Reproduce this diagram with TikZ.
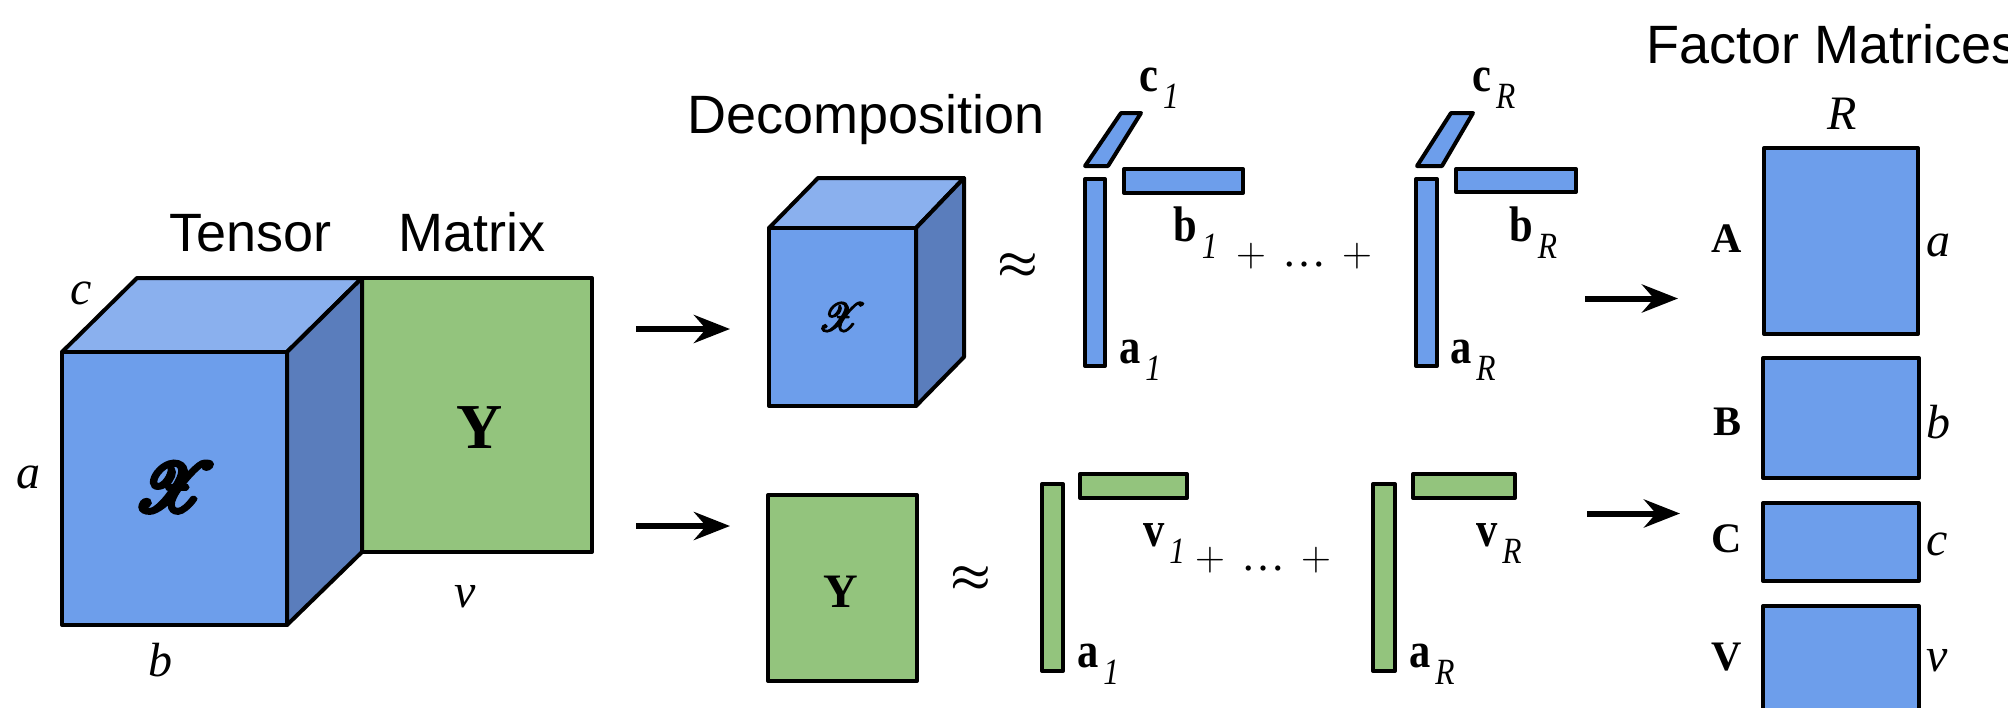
\documentclass[tikz,border=0pt]{standalone}
\usepackage{amsmath,bm}
\usepackage{mathrsfs}
\usepackage{fontspec}
\setmainfont{Liberation Serif}
\newfontfamily\headfont{Liberation Sans}
\usetikzlibrary{arrows.meta}
\definecolor{cblue}{HTML}{6D9EEB}
\definecolor{ctop}{HTML}{8AB0EE}
\definecolor{cside}{HTML}{5A7DBC}
\definecolor{cgreen}{HTML}{93C47D}
\newcommand{\fs}[1]{\fontsize{#1}{#1}\selectfont}
\newcommand{\lab}[3]{\scalebox{.85}[1]{\fs{25}\textbf{#1}}\hspace{#3}\raisebox{-8.5pt}{\scalebox{.85}[1]{\fs{18.5}\textit{#2}}}}
\newcommand{\heavy}[2]{\special{pdf:code q 2 Tr #1 w}#2\special{pdf:code Q}}
\tikzset{
 x=0.5pt,y=-0.5pt,
 shape outline/.style={draw=black,line width=2pt,line join=round},
 blueface/.style={shape outline,fill=cblue},
 topface/.style={shape outline,fill=ctop},
 sideface/.style={shape outline,fill=cside},
 greenface/.style={shape outline,fill=cgreen},
 head/.style={font=\headfont\fs{27},anchor=base west,inner sep=0pt},
 dimlab/.style={font=\fs{24}\itshape,anchor=base,inner sep=0pt},
 namelab/.style={font=\fs{21}\bfseries,anchor=base,inner sep=0pt},
 veclab/.style={anchor=base west,inner sep=0pt},
 biglab/.style={anchor=base,inner sep=0pt,font=\bfseries},
 opslab/.style={font=\fs{22},inner sep=0pt},
 flow/.style={line width=3pt,-{Stealth[length=18pt,width=14pt,inset=6pt]}},
}
\begin{document}
\begin{tikzpicture}
\useasboundingbox (0,0) rectangle (2008,707);
\clip (0,0) rectangle (2008,707);
% big cube and matrix
\draw[greenface] (362,278) rectangle (592,552);
\draw[topface] (62,352) -- (137,278) -- (362,278) -- (287,352) -- cycle;
\draw[sideface] (287,352) -- (362,278) -- (362,552) -- (287,625) -- cycle;
\draw[blueface] (62,352) rectangle (287,625);
\node[biglab] (bigX) at (175,511) {\heavy{0.8}{\scalebox{3.4}{$\mathscr{X}$}}};
\node[biglab,font=\fs{32}\bfseries] (bigY) at (480,448) {Y};
\node[head] (tensor) at (169,251) {Tensor};
\node[head] (matrix) at (398,251) {Matrix};
\node[dimlab] (la) at (29,488) {a};
\node[dimlab] (lc) at (81,304) {c};
\node[dimlab] (lb) at (160,676) {b};
\node[dimlab] (lv) at (465,607) {v};
% small cube
\draw[topface] (769,228) -- (818,178) -- (964,178) -- (916,228) -- cycle;
\draw[sideface] (916,228) -- (964,178) -- (964,357) -- (916,406) -- cycle;
\draw[blueface] (769,228) rectangle (916,406);
\node[biglab] (smallX) at (842,331) {\heavy{0.45}{\scalebox{2}{$\mathscr{X}$}}};
\node[head] (decomp) at (687,133) {Decomposition};
\node[opslab] (apx1) at (1018,266) {\scalebox{1.1}{$\bm{\approx}$}};
% first rank term
\draw[blueface] (1085,166) -- (1121,113) -- (1141,113) -- (1108,166) -- cycle;
\draw[blueface] (1124,169) rectangle (1243,193);
\draw[blueface] (1085,179) rectangle (1105,366);
\node[veclab] (c1) at (1139,91) {\lab{c}{1}{2.4pt}};
\node[veclab] (b1) at (1173,241) {\lab{b}{1}{2.4pt}};
\node[veclab] (a1) at (1119,363) {\lab{a}{1}{2.4pt}};
\node[opslab] (sum1) at (1304,256) {$+$\hspace{8pt}…\hspace{8pt}$+$};
% last rank term
\draw[blueface] (1417,166) -- (1451,113) -- (1473,113) -- (1442,166) -- cycle;
\draw[blueface] (1456,169) rectangle (1576,192);
\draw[blueface] (1416,179) rectangle (1437,366);
\node[veclab] (cR) at (1472,91) {\lab{c}{R}{2.4pt}};
\node[veclab] (bR) at (1509,241) {\lab{b}{R}{2.4pt}};
\node[veclab] (aR) at (1450,363) {\lab{a}{R}{2.4pt}};
% lower row
\draw[greenface] (768,495) rectangle (917,681);
\node[biglab,font=\fs{24}\bfseries] (smallY) at (841,607) {Y};
\node[opslab] (apx2) at (971,579) {\scalebox{1.1}{$\bm{\approx}$}};
\draw[greenface] (1042,484) rectangle (1063,671);
\draw[greenface] (1080,474) rectangle (1187,498);
\node[veclab] (v1) at (1143,546) {\lab{v}{1}{2.4pt}};
\node[veclab] (a1g) at (1077,667) {\lab{a}{1}{2.4pt}};
\node[opslab] (sum2) at (1263,560) {$+$\hspace{8pt}…\hspace{8pt}$+$};
\draw[greenface] (1373,484) rectangle (1395,671);
\draw[greenface] (1413,474) rectangle (1515,498);
\node[veclab] (vR) at (1476,546) {\lab{v}{R}{2.4pt}};
\node[veclab] (aRg) at (1409,667) {\lab{a}{R}{2.4pt}};
% factor matrices
\node[head] (factor) at (1646,63) {Factor Matrices};
\node[dimlab] (fR) at (1842,129) {R};
\draw[blueface] (1764,148) rectangle (1918,334);
\draw[blueface] (1763,358) rectangle (1919,478);
\draw[blueface] (1763,503) rectangle (1919,581);
\draw[blueface] (1763,606) rectangle (1919,720);
\node[namelab] (fA) at (1727,252) {A};
\node[namelab] (fB) at (1727,435) {B};
\node[namelab] (fC) at (1727,552) {C};
\node[namelab] (fV) at (1727,670) {V};
\node[dimlab] (fa) at (1938,256) {a};
\node[dimlab] (fb) at (1938,438) {b};
\node[dimlab] (fc) at (1937,555) {c};
\node[dimlab] (fv) at (1937,671) {v};
% arrows
\coordinate (s1) at (636,329); \coordinate (e1) at (730,329);
\coordinate (s2) at (636,526); \coordinate (e2) at (730,526);
\coordinate (s3) at (1585,298.5); \coordinate (e3) at (1678,298.5);
\coordinate (s4) at (1587,513.5); \coordinate (e4) at (1680,513.5);
\draw[flow] (s1) -- (e1);
\draw[flow] (s2) -- (e2);
\draw[flow] (s3) -- (e3);
\draw[flow] (s4) -- (e4);
\end{tikzpicture}
\end{document}
